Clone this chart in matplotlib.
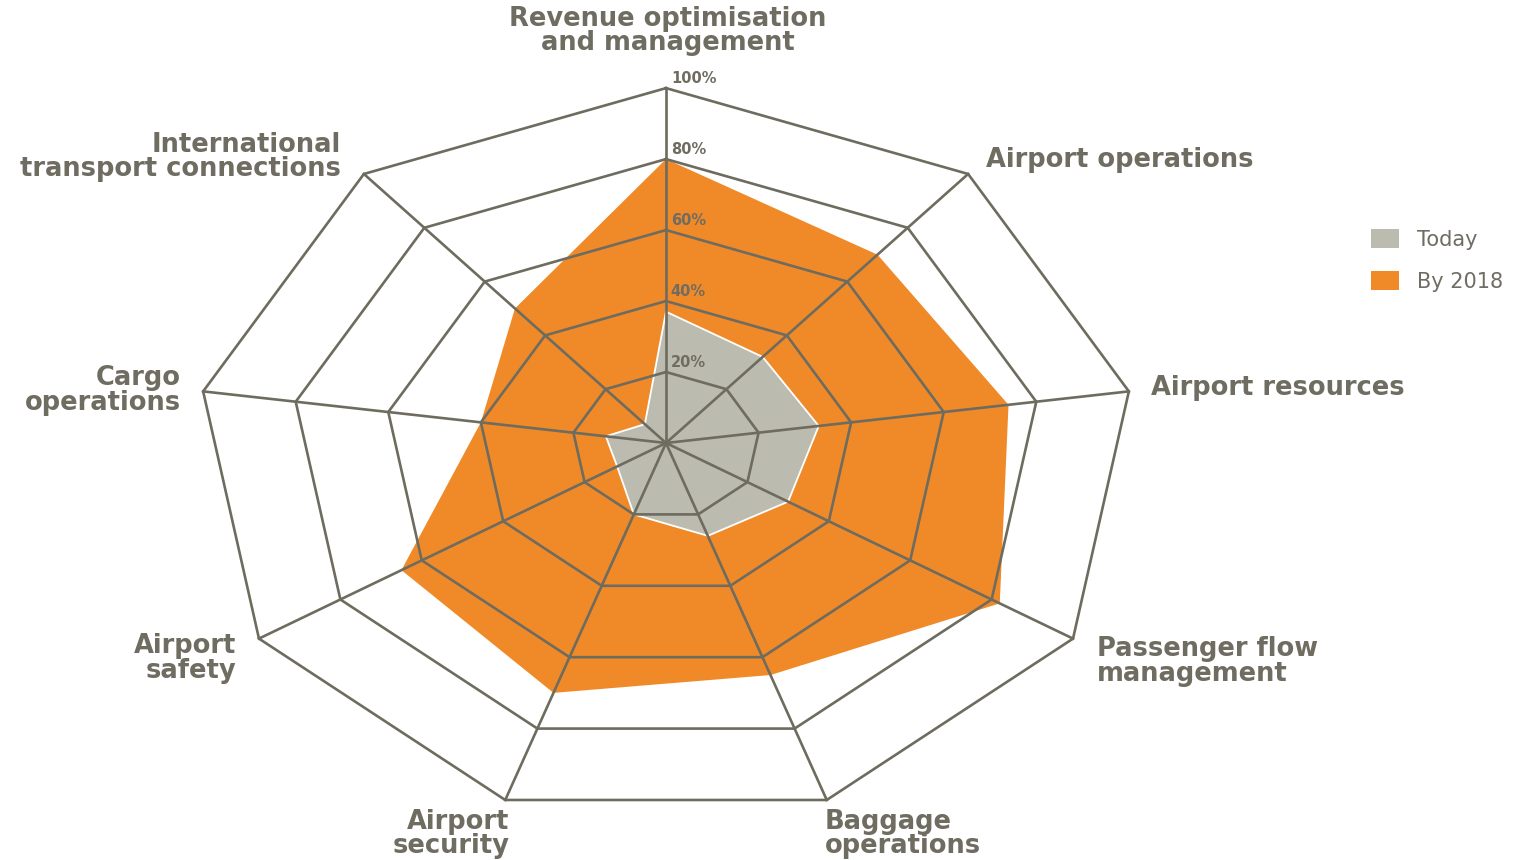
import matplotlib.pyplot as plt
from matplotlib.patches import Patch
import numpy as np

categories = [
    "Revenue optimisation\nand management",
    "Airport operations",
    "Airport resources",
    "Passenger flow\nmanagement",
    "Baggage\noperations",
    "Airport\nsecurity",
    "Airport\nsafety",
    "Cargo\noperations",
    "International\ntransport connections",
]
today = [37, 32, 33, 30, 26, 20, 12, 13, 7]
by_2018 = [80, 70, 74, 82, 65, 70, 65, 40, 50]
ring_levels = [20, 40, 60, 80, 100]
ring_labels = ["20%", "40%", "60%", "80%", "100%"]

LINE = "#6e6b5f"
TEXT = "#6f6c61"
ORANGE = "#f08a29"
GREY = "#bbbbaf"

# the original polygon is drawn a little off-centre vertically
Y_SHIFT = 0.033

n = len(categories)
angles = np.arange(n) * 2 * np.pi / n


def to_xy(values):
    r = np.asarray(values, dtype=float) / 100.0
    x = r * np.sin(angles)
    y = r * (np.cos(angles) - Y_SHIFT)
    return np.append(x, x[0]), np.append(y, y[0])


fig = plt.figure(figsize=(15.13, 8.6), dpi=100)
ax = fig.add_axes([0, 0, 1, 1])
ax.set_xlim(-666 / 470, 847 / 470)
ax.set_ylim(-417 / 367, 443 / 367)
ax.axis("off")

x, y = to_xy(by_2018)
ax.fill(x, y, color=ORANGE, lw=0, zorder=1)
x, y = to_xy(today)
ax.fill(x, y, facecolor=GREY, edgecolor="white", lw=1.3, zorder=2)

# polygon rings and spokes
for lvl in ring_levels:
    x, y = to_xy([lvl] * n)
    ax.plot(x, y, color=LINE, lw=1.9, zorder=3, solid_joinstyle="miter")
ox, oy = to_xy([100] * n)
for i in range(n):
    ax.plot([0, ox[i]], [0, oy[i]], color=LINE, lw=1.9, zorder=3)

# percentage labels on the top spoke
for lvl, lab in zip(ring_levels, ring_labels):
    ax.annotate(lab, xy=(0, lvl / 100 * (1 - Y_SHIFT)), xytext=(3.5, 7),
                textcoords="offset points", ha="left", va="center",
                fontsize=10.5, fontweight="bold", color=TEXT, zorder=4)

# category labels: offsets (px) from outer vertex, and alignment
label_pos = [
    (2, -57, "center"),
    (18, -14, "left"),
    (22, -3, "left"),
    (24, 23, "left"),
    (-2, 34, "left"),
    (4, 34, "right"),
    (-23, 20, "right"),
    (-22, -1, "right"),
    (-23, -17, "right"),
]
for i, (cat, (dx, dy, ha)) in enumerate(zip(categories, label_pos)):
    ax.annotate(cat, xy=(ox[i], oy[i]), xytext=(dx * 0.72, -dy * 0.72),
                textcoords="offset points", ha=ha, va="center",
                multialignment=ha, fontsize=18.5, fontweight="bold",
                color=TEXT, linespacing=0.92)

handles = [Patch(facecolor=GREY, edgecolor="none", label="Today"),
           Patch(facecolor=ORANGE, edgecolor="none", label="By 2018")]
leg = fig.legend(handles=handles, loc="upper left",
                 bbox_to_anchor=(1371 / 1513, 1 - 229 / 860),
                 frameon=False, fontsize=15, handlelength=1.35,
                 handleheight=1.06, handletextpad=0.87, labelspacing=1.0,
                 borderpad=0, borderaxespad=0)
for t in leg.get_texts():
    t.set_color(TEXT)

fig.savefig("out.png", dpi=100)
